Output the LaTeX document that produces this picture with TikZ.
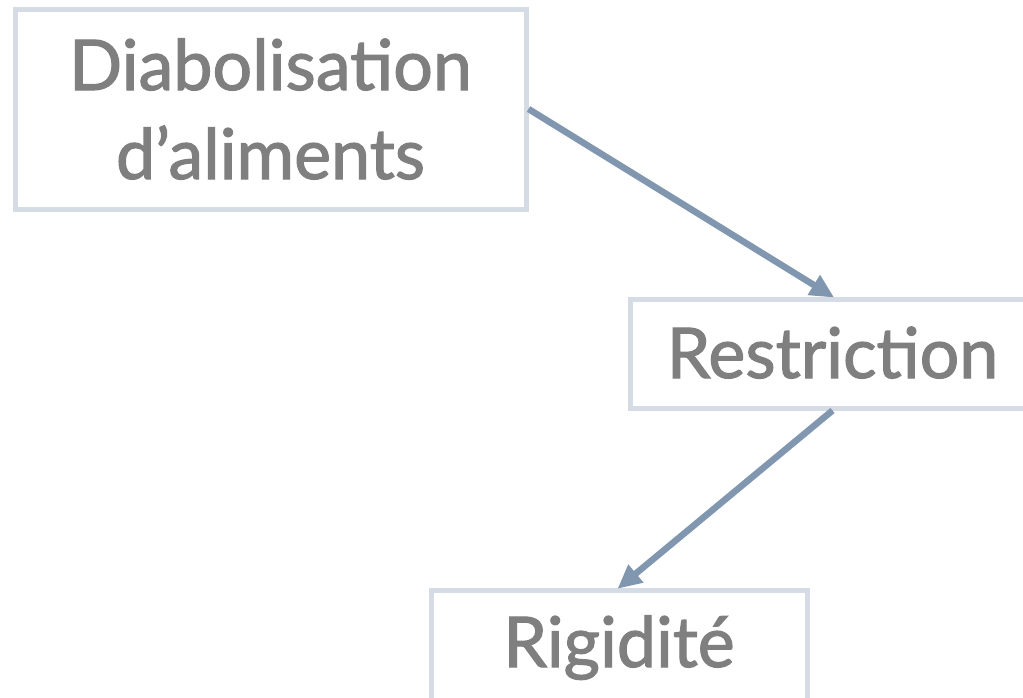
\documentclass[tikz,border=0pt]{standalone}
\usepackage{fontspec}
\setmainfont{Lato}
\newfontfamily\cardfont[FakeBold=1.6]{Lato}
\usetikzlibrary{arrows.meta}
\definecolor{boxline}{HTML}{D5DCE6}
\definecolor{textgray}{HTML}{7F7F7F}
\definecolor{arrowblue}{HTML}{8197B0}
\tikzset{
  card/.style={draw=boxline, line width=5pt, rectangle, inner sep=0pt,
    text=textgray, font=\cardfont\fontsize{70}{89}\selectfont, align=center},
  link/.style={draw=arrowblue, line width=6.5pt,
    -{Triangle[length=24pt,width=22pt]}, shorten >=-2pt}
}
\begin{document}
\begin{tikzpicture}[x=1pt,y=-1pt]
  \useasboundingbox (0,0) rectangle (1023,697);
  \clip (0,0) rectangle (1023,697);
  \fill[white] (0,0) rectangle (1023,697);

  \node[card, minimum width=511pt, minimum height=200pt] (diab) at (270.5,109)
    {Diabolisation\\d’aliments};
  \node[card, minimum width=405pt, minimum height=109pt,
        text height=53pt, text depth=4pt] (restr) at (832.5,353.5) {Restriction};
  \node[card, minimum width=376pt, minimum height=130pt,
        text height=51pt, text depth=27pt] (rigid) at (619,655) {Rigidité};

  \draw[link] (diab.east) -- (restr.north);
  \draw[link] (restr.south) -- (rigid.north);
\end{tikzpicture}
\end{document}
